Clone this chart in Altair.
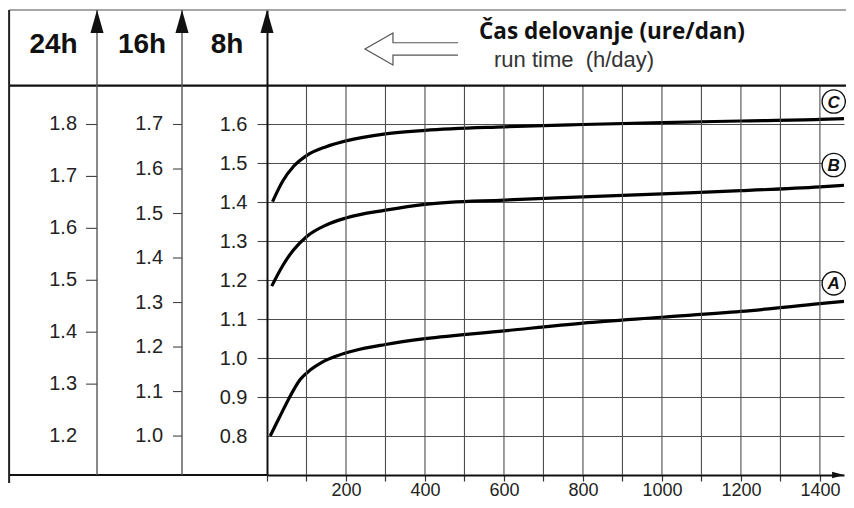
import altair as alt
import pandas as pd

# ---------------- data ----------------
curve_A_x = [8, 30, 60, 84, 110, 140, 180, 220, 300, 400, 600, 800, 1000, 1200, 1400, 1461]
curve_A_y = [0.80, 0.845, 0.905, 0.945, 0.970, 0.990, 1.007, 1.019, 1.035, 1.050, 1.070, 1.090, 1.105, 1.120, 1.140, 1.146]
curve_B_x = [12, 40, 67, 100, 150, 200, 300, 400, 600, 800, 1000, 1200, 1400, 1461]
curve_B_y = [1.185, 1.238, 1.278, 1.312, 1.342, 1.360, 1.380, 1.395, 1.406, 1.414, 1.422, 1.430, 1.440, 1.444]
curve_C_x = [14, 40, 67, 100, 150, 200, 300, 400, 600, 800, 1000, 1200, 1400, 1461]
curve_C_y = [1.402, 1.455, 1.492, 1.520, 1.543, 1.558, 1.576, 1.585, 1.594, 1.600, 1.605, 1.609, 1.613, 1.615]

curve_names = ["A", "B", "C"]
name_x = [1435, 1435, 1435]
name_y = [1.192, 1.496, 1.659]

x_ticks = [0, 100, 200, 300, 400, 500, 600, 700, 800, 900, 1000, 1100, 1200, 1300, 1400]
x_grid = [100, 200, 300, 400, 500, 600, 700, 800, 900, 1000, 1100, 1200, 1300, 1400]
ticks_8h = [0.8, 0.9, 1.0, 1.1, 1.2, 1.3, 1.4, 1.5, 1.6]
ticks_16h = [1.0, 1.1, 1.2, 1.3, 1.4, 1.5, 1.6, 1.7]
ticks_24h = [1.2, 1.3, 1.4, 1.5, 1.6, 1.7, 1.8]

header_labels = ["24h", "16h", "8h"]
title_main = "Čas delovanje (ure/dan)"
title_sub = "run time\u00a0\u00a0(h/day)"

# ---------------- scales / layout ----------------
W, H = 577, 465
X_DOMAIN = [0, 1461]
Y8_DOMAIN = [0.7, 1.894]
PX = W / (X_DOMAIN[1] - X_DOMAIN[0])  # pixels per hour unit

# frame positions in data units (x: hours axis, y: 8h scale)
LEFT_X, AX24_X, AX16_X, RIGHT_X = -653, -430.4, -215.2, 1466
TOP_Y, SEP_Y, BOT_Y, BELOW_Y = 1.894, 1.7, 0.7, 0.6795
ARROW_Y = 1.8646
HEAD_X = [-540.5, -316.5, -101.3]
HEAD_Y = 1.8043

xs = alt.Scale(domain=X_DOMAIN, nice=False, zero=False)
ys = alt.Scale(domain=Y8_DOMAIN, nice=False, zero=False)
FONT = "Liberation Sans"
LABEL_SIZE = 20

x_axis = alt.Axis(
    orient="bottom", values=x_ticks, format="d",
    labelExpr="(datum.value % 200 == 0 && datum.value > 0) ? datum.label : ''",
    title=None, grid=False, domainColor="#111", domainWidth=2,
    tickColor="#333", tickSize=6, tickWidth=1.2,
    labelFont=FONT, labelFontSize=18, labelColor="#222", labelPadding=0,
    labelFlush=False, labelOverlap=False,
)
y8_axis = alt.Axis(
    orient="left", values=ticks_8h, format=".1f", title=None,
    grid=True, gridColor="#4d4d4d", gridWidth=1.1,
    domainColor="#111", domainWidth=2,
    tickColor="#444", tickSize=10, tickWidth=1.1,
    tickOpacity={"condition": {"test": "datum.value < 0.85", "value": 0}, "value": 1},
    labelFont=FONT, labelFontSize=LABEL_SIZE, labelColor="#222", labelPadding=10,
    labelOverlap=False,
)


def X(field):
    return alt.X(field, type="quantitative", scale=xs, axis=x_axis)


def Y(field):
    return alt.Y(field, type="quantitative", scale=ys, axis=y8_axis)


curves_df = pd.concat([
    pd.DataFrame({"x": curve_A_x, "y": curve_A_y, "curve": "A"}),
    pd.DataFrame({"x": curve_B_x, "y": curve_B_y, "curve": "B"}),
    pd.DataFrame({"x": curve_C_x, "y": curve_C_y, "curve": "C"}),
])

curves = alt.Chart(curves_df).mark_line(color="black", strokeWidth=3.2, interpolate="monotone").encode(
    x=X("x:Q"), y=Y("y:Q"), detail="curve:N"
)

vgrid = alt.Chart(pd.DataFrame({"x": x_grid, "y0": BOT_Y, "y1": SEP_Y})).mark_rule(
    color="#4d4d4d", strokeWidth=1.1).encode(x=X("x:Q"), y=Y("y0:Q"), y2="y1:Q")

hlines_df = pd.DataFrame({"a": [LEFT_X], "b": [RIGHT_X], "top": [TOP_Y], "sep": [SEP_Y]})
top_line = alt.Chart(hlines_df).mark_rule(color="#8a8a8a", strokeWidth=1.5).encode(
    x=X("a:Q"), x2="b:Q", y=Y("top:Q"))
sep_line = alt.Chart(hlines_df).mark_rule(color="#111", strokeWidth=2.2).encode(
    x=X("a:Q"), x2="b:Q", y=Y("sep:Q"))
bottom_left = alt.Chart(pd.DataFrame({"a": [LEFT_X], "b": [0], "y": [BOT_Y]})).mark_rule(
    color="#111", strokeWidth=2).encode(x=X("a:Q"), x2="b:Q", y=Y("y:Q"))
left_border = alt.Chart(pd.DataFrame({"a": [LEFT_X], "y0": [BELOW_Y], "y1": [TOP_Y]})).mark_rule(
    color="#222", strokeWidth=2).encode(x=X("a:Q"), y=Y("y0:Q"), y2="y1:Q")
side_lines = alt.Chart(pd.DataFrame({"a": [AX24_X, AX16_X], "y0": BOT_Y, "y1": TOP_Y})).mark_rule(
    color="#555", strokeWidth=1.4).encode(x=X("a:Q"), y=Y("y0:Q"), y2="y1:Q")


def side_scale(ticks, base, ratio, axis_x, tick_px, pad_px, skip_tick_below=None):
    """Secondary scale: value v sits at 8h-position 0.8 + (v - base) / ratio."""
    df = pd.DataFrame({"v": ticks})
    base_chart = alt.Chart(df).transform_calculate(
        p=f"0.8 + (datum.v - {base}) / {ratio}",
        lab="format(datum.v, '.1f')",
        xa=f"{axis_x} - {tick_px / PX}",
        xb=f"{axis_x}",
        xl=f"{axis_x} - {(tick_px + pad_px) / PX}",
    )
    tick_chart = base_chart
    if skip_tick_below is not None:
        tick_chart = base_chart.transform_filter(f"datum.v >= {skip_tick_below}")
    ticks_m = tick_chart.mark_rule(color="#444", strokeWidth=1.1).encode(
        x=X("xa:Q"), x2="xb:Q", y=Y("p:Q"))
    labels_m = base_chart.mark_text(font=FONT, fontSize=LABEL_SIZE, color="#222",
                                    align="right", baseline="middle").encode(
        x=X("xl:Q"), y=Y("p:Q"), text="lab:N")
    return [ticks_m, labels_m]


side16 = side_scale(ticks_16h, 1.0, 0.875, AX16_X, 9, 10)
side24 = side_scale(ticks_24h, 1.2, 0.75, AX24_X, 11, 9, skip_tick_below=1.25)

names_df = pd.DataFrame({"x": name_x, "y": name_y, "t": curve_names})
circles = alt.Chart(names_df).mark_circle(size=540, fill="white", stroke="#111", strokeWidth=1.4, opacity=1).encode(
    x=X("x:Q"), y=Y("y:Q"))
letters = alt.Chart(names_df).mark_text(font=FONT, fontSize=17, fontWeight="bold", fontStyle="italic",
                                        color="#111", baseline="middle", dy=1).encode(
    x=X("x:Q"), y=Y("y:Q"), text="t:N")

up_arrows = alt.Chart(pd.DataFrame({"x": [AX24_X, AX16_X, 0], "y": ARROW_Y})).mark_point(
    shape="M0,-1 L0.57,1 L-0.57,1 Z", size=529, filled=True, color="#111", opacity=1
).encode(x=X("x:Q"), y=Y("y:Q"))

right_arrow = alt.Chart(pd.DataFrame({"x": [1446], "y": [BOT_Y]})).mark_point(
    shape="M1,0 L-1,0.55 L-1,-0.55 Z", size=144, filled=True, color="#111", opacity=1
).encode(x=X("x:Q"), y=Y("y:Q"))

hollow_arrow = alt.Chart(pd.DataFrame({"x": [365.8], "y": [1.794]})).mark_point(
    shape="M1,-0.133 L-0.398,-0.133 L-0.398,-0.344 L-1,0 L-0.398,0.344 L-0.398,0.133 L1,0.133",
    size=8649, filled=False, color="#555", strokeWidth=1.2, opacity=1
).encode(x=X("x:Q"), y=Y("y:Q"))

head_text = alt.Chart(pd.DataFrame({"x": HEAD_X, "y": HEAD_Y, "t": header_labels})).mark_text(
    font=FONT, fontSize=28, fontWeight="bold", color="#111", baseline="middle", align="center"
).encode(x=X("x:Q"), y=Y("y:Q"), text="t:N")

title_text = alt.Chart(pd.DataFrame({"x": [536.7], "y": [1.8197], "t": [title_main]})).mark_text(
    font="Open Sans", fontSize=22.5, fontWeight="bold", color="#111", align="left", baseline="alphabetic"
).encode(x=X("x:Q"), y=Y("y:Q"), text="t:N")

sub_text = alt.Chart(pd.DataFrame({"x": [574.7], "y": [1.7485], "t": [title_sub]})).mark_text(
    font=FONT, fontSize=22, color="#333", align="left", baseline="alphabetic"
).encode(x=X("x:Q"), y=Y("y:Q"), text="t:N")

chart = alt.layer(
    curves, vgrid, top_line, sep_line, bottom_left, left_border, side_lines,
    *side16, *side24, circles, letters,
    up_arrows, right_arrow, hollow_arrow, head_text, title_text, sub_text
).properties(
    width=W, height=H,
    autosize=alt.AutoSizeParams(type="none"),
    padding={"left": 259, "top": 2, "right": 2, "bottom": 25},
    background="white",
).configure_view(stroke=None)

chart.save("out.html", embed_options={"renderer": "svg", "actions": False})
